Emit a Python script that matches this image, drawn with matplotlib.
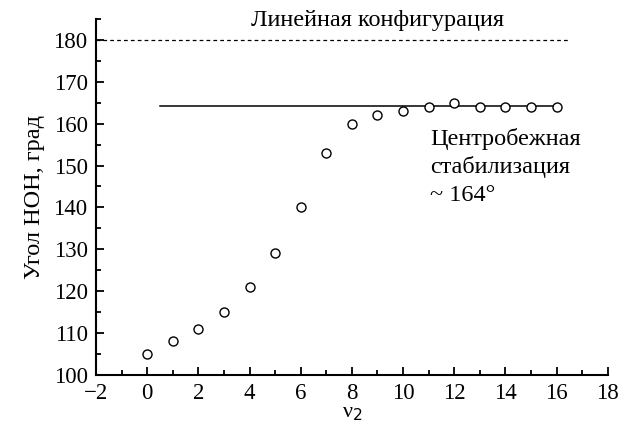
import matplotlib
matplotlib.use("Agg")
from matplotlib import pyplot as plt
from matplotlib.ticker import MultipleLocator

# колебательное квантовое число v2 и угол HOH
v2 = [0, 1, 2, 3, 4, 5, 6, 7, 8, 9, 10, 11, 12, 13, 14, 15, 16]
angle = [105, 108, 111, 115, 121, 129, 140, 153, 160, 162, 163, 164, 165, 164, 164, 164, 164]
linear_angle = 180
stab_angle = 164.3

plt.rcParams["font.family"] = ["Liberation Serif", "DejaVu Serif"]
plt.rcParams["font.size"] = 16

fig = plt.figure(figsize=(6.19, 4.30), dpi=100)
ax = fig.add_axes([0.155, 0.128, 0.827, 0.828])

ax.plot([-2, 16.5], [linear_angle, linear_angle], "k--", lw=0.9, dashes=(3, 2.5))
ax.plot([0.5, 16.1], [stab_angle, stab_angle], "k-", lw=1.1)
ax.plot(v2, angle, "o", ms=6.5, mfc="white", mec="black", mew=1.0)

ax.text(9.0, 182.0, "Линейная конфигурация", ha="center", va="bottom", fontsize=17.5)
ax.text(11.05, 159, "Центробежная\nстабилизация", ha="left", va="top", fontsize=17.5, linespacing=1.35)
ax.text(11.05, 145.3, "~ 164°", ha="left", va="top", fontsize=17.5)

ax.set_xlim(-2, 18)
ax.set_ylim(100, 185)
ax.set_xticks(range(-2, 19, 2))
ax.set_yticks(range(100, 181, 10))
ax.set_xticklabels(["\u22122"] + [str(v) for v in range(0, 19, 2)])
ax.xaxis.set_minor_locator(MultipleLocator(1))
ax.yaxis.set_minor_locator(MultipleLocator(5))
ax.tick_params(which="both", direction="in", top=False, right=False, labelsize=16.5, width=1.3)
ax.tick_params(which="major", length=6, pad=6)
ax.tick_params(which="minor", length=3.5)
ax.spines["top"].set_visible(False)
ax.spines["right"].set_visible(False)
for s in ("left", "bottom"):
    ax.spines[s].set_linewidth(1.5)

ax.set_xlabel("ν$_2$", fontsize=16, labelpad=0)
ax.set_ylabel("Угол HOH, град", fontsize=17.5, labelpad=6)

fig.savefig("out.png", dpi=100)
